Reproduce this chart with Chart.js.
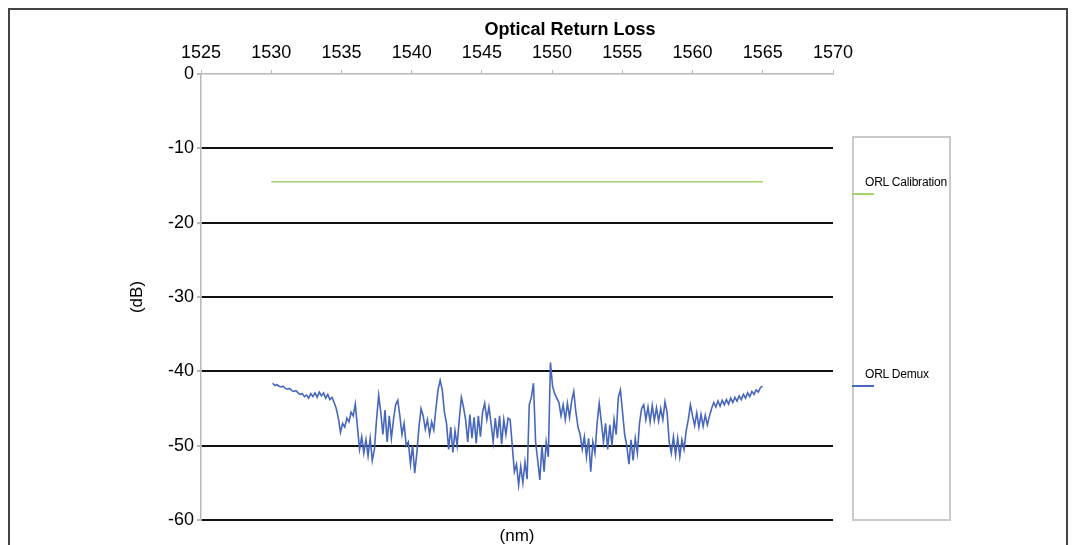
<!DOCTYPE html>
<html>
<head>
<meta charset="utf-8">
<title>Optical Return Loss</title>
<script src="https://cdn.jsdelivr.net/npm/chart.js@4.4.1/dist/chart.umd.min.js"></script>
<style>
  body { margin: 0; background: #fff; font-family: "Liberation Sans", Arial, sans-serif; }
  #wrap { position: relative; width: 1076px; height: 545px; overflow: hidden; }
  #frame { position: absolute; left: 8px; top: 8px; width: 1060px; height: 560px;
           border: 2px solid #444; box-sizing: border-box; }
  canvas { position: absolute; left: 0; top: 0; }
  #legend { position: absolute; left: 852px; top: 136px; width: 99px; height: 385px;
            border: 2px solid #cacaca; box-sizing: border-box; }
  .lg-text { position: absolute; left: 11px; font-size: 12px; line-height: 14px; color: #000;
             white-space: nowrap; letter-spacing: -0.2px; }
  .lg-line { position: absolute; left: -2px; width: 22px; height: 1.5px; }
</style>
</head>
<body>
<div id="wrap">
  <div id="frame"></div>
  <canvas id="orlChart" width="1076" height="545"></canvas>
  <div id="legend"></div>
</div>
<script>
// x axis ticks (nm) and y axis ticks (dB)
const wavelengthTicks = [1525, 1530, 1535, 1540, 1545, 1550, 1555, 1560, 1565, 1570];
const lossTicks = [0, -10, -20, -30, -40, -50, -60];

// ORL Calibration - flat trace
const calWavelength = [1530, 1535.9, 1537.0, 1538.0, 1541.3, 1542.3, 1543.4, 1556.2, 1559.7, 1565];
const calLoss = [-14.5, -14.5, -14.5, -14.5, -14.5, -14.5, -14.5, -14.5, -14.5, -14.5];

const demuxStart = 1530.1;
const demuxStep = 0.151;
const demuxLoss = [
  -41.6, -41.9, -41.8, -42.0, -42.1, -42.0, -42.3, -42.4, -42.3, -42.6,
  -42.7, -42.6, -42.9, -43.1, -43.0, -43.4, -43.2, -43.6, -43.0, -43.4,
  -42.9, -43.5, -42.8, -43.3, -42.9, -43.6, -43.1, -43.8, -43.5, -44.2,
  -45.0, -46.3, -48.2, -47.0, -47.5, -46.3, -46.8, -45.5, -46.0, -44.4,
  -47.5, -50.5, -48.8, -51.0, -49.2, -51.4, -49.0, -52.0, -50.5, -46.5,
  -43.2, -45.5, -48.5, -45.2, -49.5, -46.0, -49.0, -46.5, -44.5, -43.9,
  -46.0, -48.5, -47.0, -50.0, -49.5, -52.5, -50.0, -53.7, -51.0, -47.5,
  -45.0, -46.0, -47.8, -46.5, -48.5, -46.8, -47.9, -45.0, -42.5, -41.2,
  -42.5, -45.5, -47.0, -50.5, -47.5, -50.9, -48.0, -50.0, -46.5, -43.5,
  -44.8, -46.5, -49.5, -45.8, -49.0, -46.2, -49.7, -46.0, -48.8, -45.5,
  -44.3, -46.5, -44.8, -47.0, -49.5, -46.3, -49.0, -46.0, -49.8, -46.5,
  -48.5, -46.3, -46.5, -50.0, -53.5, -52.5, -55.3, -52.8, -55.0, -52.2,
  -54.5, -44.5, -43.5, -41.6, -49.5, -52.0, -54.6, -50.0, -53.5, -49.5,
  -51.5, -38.8, -42.0, -43.0, -43.6, -44.2, -46.0, -44.5, -46.5, -44.3,
  -46.2, -44.0, -42.7, -45.5, -47.5, -48.5, -50.5, -48.8, -51.5, -49.0,
  -53.5, -49.5, -51.0, -47.0, -44.3, -46.8, -49.5, -47.0, -50.5, -47.2,
  -50.0, -46.5, -48.5, -43.5, -42.5, -45.5, -48.5, -50.0, -52.5, -49.2,
  -52.0, -49.0, -51.0, -47.0, -45.0, -44.5, -46.5, -44.8, -46.8, -44.6,
  -46.6, -44.9, -46.7, -45.0, -46.5, -44.1, -45.5, -49.5, -51.0, -48.8,
  -51.3, -49.0, -51.5, -49.2, -50.5, -48.0, -46.5, -44.5, -46.0, -47.3,
  -45.6, -47.5, -45.8, -47.4, -45.9, -47.2, -46.0, -45.0, -44.2, -44.8,
  -44.0, -44.7, -43.9, -44.5, -43.8, -44.4, -43.6, -44.2, -43.5, -44.0,
  -43.3, -43.8, -43.1, -43.6, -42.9, -43.4, -42.7, -43.1, -42.5, -42.8,
  -42.2, -42.0
];

const seriesNames = ["ORL Calibration", "ORL Demux"];
const seriesColors = ["#a3d46c", "#4767bd"];

const calPoints = calWavelength.map((w, i) => ({ x: w, y: calLoss[i] }));
const demuxPoints = demuxLoss.map((v, i) => ({ x: demuxStart + i * demuxStep, y: v }));

const FONT = '"Liberation Sans", Arial, Helvetica, sans-serif';
Chart.defaults.font.family = FONT;
Chart.defaults.color = "#000";

// title sits a bit right of the plot centre in the original
const titlePlugin = {
  id: "orlTitle",
  afterDraw(chart) {
    const ctx = chart.ctx;
    ctx.save();
    ctx.font = "bold 18px " + FONT;
    ctx.fillStyle = "#000";
    ctx.textAlign = "center";
    ctx.textBaseline = "middle";
    ctx.fillText("Optical Return Loss", 570, 30);
    ctx.restore();
  }
};

const chart = new Chart(document.getElementById("orlChart"), {
  type: "scatter",
  data: {
    datasets: [
      { label: seriesNames[0], data: calPoints, borderColor: seriesColors[0], borderWidth: 1.5,
        showLine: true, pointRadius: 0, tension: 0 },
      { label: seriesNames[1], data: demuxPoints, borderColor: seriesColors[1], borderWidth: 1.6,
        showLine: true, pointRadius: 0, tension: 0 }
    ]
  },
  options: {
    responsive: false,
    animation: false,
    devicePixelRatio: 1,
    layout: { padding: { top: 40, right: 243, left: 0, bottom: 0 } },
    plugins: { legend: { display: false }, tooltip: { enabled: false }, title: { display: false } },
    scales: {
      x: {
        type: "linear",
        position: "top",
        min: wavelengthTicks[0],
        max: wavelengthTicks[wavelengthTicks.length - 1],
        afterBuildTicks: s => { s.ticks = wavelengthTicks.map(v => ({ value: v })); },
        ticks: { font: { size: 18 }, padding: 6, maxRotation: 0, callback: v => String(v) },
        grid: { drawOnChartArea: false, drawTicks: true, tickLength: 4, color: "#b8b8b8" },
        border: { display: true, color: "#b8b8b8", width: 1.5 },
        afterFit: s => { s.height = 34; }
      },
      xb: {
        type: "linear",
        position: "bottom",
        min: wavelengthTicks[0],
        max: wavelengthTicks[wavelengthTicks.length - 1],
        ticks: { display: false },
        grid: { display: false },
        border: { display: false },
        title: { display: true, text: "(nm)", font: { size: 17, lineHeight: 1.05 }, padding: 0 },
        afterFit: s => { s.height = 25; }
      },
      y: {
        min: -60,
        max: 0,
        afterBuildTicks: s => { s.ticks = lossTicks.map(v => ({ value: v })); },
        ticks: { font: { size: 18 }, padding: 3, callback: v => String(v) },
        grid: {
          color: c => (c.tick && c.tick.value === 0 ? "rgba(0,0,0,0)" : "#111"),
          lineWidth: 2,
          tickColor: "#b8b8b8",
          tickLength: 4
        },
        border: { display: true, color: "#b8b8b8", width: 1.5 },
        title: { display: true, text: "(dB)", font: { size: 17 }, padding: { top: 127, bottom: 0 } },
        afterFit: s => { s.width = 201; }
      }
    }
  },
  plugins: [titlePlugin]
});

// legend box: label on top, line sample under it
const legendRows = [37, 229];
const legendEl = document.getElementById("legend");
chart.data.datasets.forEach((ds, i) => {
  const t = document.createElement("div");
  t.className = "lg-text";
  t.style.top = legendRows[i] + "px";
  t.textContent = ds.label;
  legendEl.appendChild(t);
  const l = document.createElement("div");
  l.className = "lg-line";
  l.style.top = (legendRows[i] + 18) + "px";
  l.style.background = ds.borderColor;
  legendEl.appendChild(l);
});
</script>
</body>
</html>
